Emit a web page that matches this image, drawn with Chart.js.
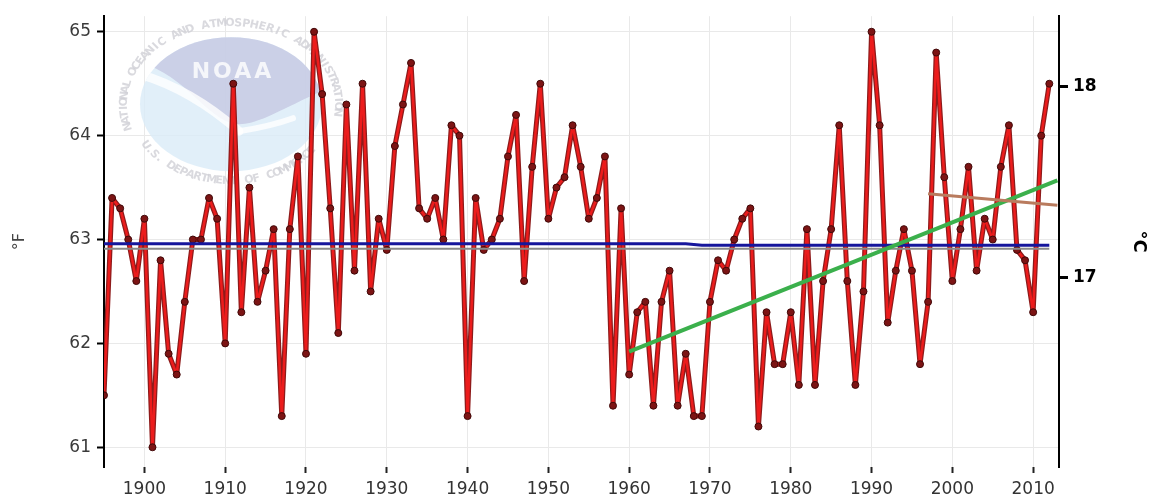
<!DOCTYPE html>
<html>
<head>
<meta charset="utf-8">
<script src="https://cdn.jsdelivr.net/npm/chart.js@4.4.1/dist/chart.umd.min.js"></script>
<style>
  html, body { margin: 0; padding: 0; background: #fff; }
  #wrap { position: relative; width: 1161px; height: 497px; }
</style>
</head>
<body>
<div id="wrap"><canvas id="chart"></canvas></div>
<script>
/* ===== DATA ===== */

// annual mean temperature, °F, one value per year starting at firstYear
const firstYear = 1895;
const tempsF = [
  61.5, 63.4, 63.3, 63.0, 62.6, 63.2, 61.0, 62.8, 61.9, 61.7,
  62.4, 63.0, 63.0, 63.4, 63.2, 62.0, 64.5, 62.3, 63.5, 62.4,
  62.7, 63.1, 61.3, 63.1, 63.8, 61.9, 65.0, 64.4, 63.3, 62.1,
  64.3, 62.7, 64.5, 62.5, 63.2, 62.9, 63.9, 64.3, 64.7, 63.3,
  63.2, 63.4, 63.0, 64.1, 64.0, 61.3, 63.4, 62.9, 63.0, 63.2,
  63.8, 64.2, 62.6, 63.7, 64.5, 63.2, 63.5, 63.6, 64.1, 63.7,
  63.2, 63.4, 63.8, 61.4, 63.3, 61.7, 62.3, 62.4, 61.4, 62.4,
  62.7, 61.4, 61.9, 61.3, 61.3, 62.4, 62.8, 62.7, 63.0, 63.2,
  63.3, 61.2, 62.3, 61.8, 61.8, 62.3, 61.6, 63.1, 61.6, 62.6,
  63.1, 64.1, 62.6, 61.6, 62.5, 65.0, 64.1, 62.2, 62.7, 63.1,
  62.7, 61.8, 62.4, 64.8, 63.6, 62.6, 63.1, 63.7, 62.7, 63.2,
  63.0, 63.7, 64.1, 62.9, 62.8, 62.3, 64.0, 64.5
];

// long-term average lines
const meanYears = [1895, 1967, 1969, 2012];
const meanValues = [62.96, 62.96, 62.945, 62.945];
const baseYears = [1895, 2012];
const baseValues = [62.91, 62.91];

// trend lines
const trend1960Years = [1960, 2013];
const trend1960Values = [61.92, 63.57];
const trend1997Years = [1997, 2013];
const trend1997Values = [63.44, 63.33];

// axis ticks
const yearTicks = [1900, 1910, 1920, 1930, 1940, 1950, 1960, 1970, 1980, 1990, 2000, 2010];
const fTicks = [61, 62, 63, 64, 65];
const cTicks = [17, 18];

/* ===== HELPERS ===== */

const toPoints = (xs, ys) => xs.map((x, i) => ({ x: x, y: ys[i] }));
const tempPoints = tempsF.map((y, i) => ({ x: firstYear + i, y: y }));

// faint NOAA seal behind the data
const noaaLogo = {
  id: 'noaaLogo',
  beforeDatasetsDraw(chart) {
    const { ctx, chartArea } = chart;
    const cx = chartArea.left + 127, cy = chartArea.top + 88;
    const rx = 91, ry = 67;
    ctx.save();
    ctx.globalAlpha = 0.8;

    // ring text
    ctx.fillStyle = '#d0d0d6';
    ctx.font = 'bold 11px "DejaVu Sans"';
    ctx.textAlign = 'center';
    ctx.textBaseline = 'middle';
    const ringText = (txt, a0, a1, ringRx, ringRy, top) => {
      const n = txt.length;
      for (let i = 0; i < n; i++) {
        const a = (a0 + (a1 - a0) * (i + 0.5) / n) * Math.PI / 180;
        ctx.save();
        ctx.translate(cx + ringRx * Math.cos(a), cy + ringRy * Math.sin(a));
        ctx.rotate(top ? a + Math.PI / 2 : a - Math.PI / 2);
        ctx.fillText(txt[i], 0, 0);
        ctx.restore();
      }
    };
    ringText('NATIONAL OCEANIC AND ATMOSPHERIC ADMINISTRATION', 162, 368, 107, 81, true);
    ringText('U.S. DEPARTMENT OF COMMERCE', 150, 35, 101, 77, false);

    // disc
    ctx.beginPath();
    ctx.ellipse(cx, cy, rx, ry, 0, 0, Math.PI * 2);
    ctx.fillStyle = '#d9ebf7';
    ctx.fill();
    ctx.clip();

    ctx.beginPath();
    ctx.moveTo(cx - rx - 2, cy - ry - 2);
    ctx.lineTo(cx + rx + 2, cy - ry - 2);
    ctx.lineTo(cx + rx + 2, cy - 14);
    ctx.bezierCurveTo(cx + 50, cy + 5, cx + 25, cy + 22, cx + 5, cy + 20);
    ctx.bezierCurveTo(cx - 25, cy + 15, cx - 45, cy - 30, cx - rx - 2, cy - 42);
    ctx.closePath();
    ctx.fillStyle = '#c6c8e2';
    ctx.fill();

    // white gull wings
    ctx.strokeStyle = '#ffffff';
    ctx.lineCap = 'round';
    ctx.lineWidth = 9;
    ctx.beginPath();
    ctx.moveTo(cx - rx, cy - 30);
    ctx.quadraticCurveTo(cx - 40, cy - 15, cx + 8, cy + 27);
    ctx.stroke();
    ctx.lineWidth = 6;
    ctx.beginPath();
    ctx.moveTo(cx + 8, cy + 27);
    ctx.quadraticCurveTo(cx + 40, cy + 22, cx + 62, cy + 14);
    ctx.stroke();

    ctx.fillStyle = '#ffffff';
    ctx.font = 'bold 22px "DejaVu Sans"';
    ctx.letterSpacing = '3px';
    ctx.fillText('NOAA', cx + 2, cy - 32);
    ctx.restore();
  }
};

/* ===== CHART ===== */

Chart.defaults.font.family = '"DejaVu Sans", sans-serif';

new Chart(document.getElementById('chart'), {
  type: 'line',
  data: {
    datasets: [
      {
        label: 'Trend 1997-2012',
        data: toPoints(trend1997Years, trend1997Values),
        borderColor: '#b97b5e',
        borderWidth: 3,
        pointRadius: 0,
        order: 1
      },
      {
        label: 'Trend 1960-2012',
        data: toPoints(trend1960Years, trend1960Values),
        borderColor: '#3bb04c',
        borderWidth: 4,
        pointRadius: 0,
        order: 2
      },
      {
        label: 'Mean',
        data: toPoints(meanYears, meanValues),
        borderColor: '#16169c',
        borderWidth: 3,
        pointRadius: 0,
        order: 3
      },
      {
        label: 'Base',
        data: toPoints(baseYears, baseValues),
        borderColor: '#8a8a8a',
        borderWidth: 2,
        pointRadius: 0,
        order: 4
      },
      {
        label: 'Annual',
        data: tempPoints,
        borderColor: '#ec1c1c',
        borderWidth: 2.5,
        borderJoinStyle: 'round',
        pointRadius: 3.5,
        pointBackgroundColor: '#7c1414',
        pointBorderColor: '#400808',
        pointBorderWidth: 1,
        order: 5
      },
      {
        label: 'Annual outline',
        data: tempPoints,
        borderColor: '#8e1b1b',
        borderWidth: 5,
        borderJoinStyle: 'round',
        pointRadius: 0,
        order: 6
      }
    ]
  },
  options: {
    responsive: true,
    maintainAspectRatio: false,
    animation: false,
    devicePixelRatio: 1,
    events: [],
    layout: { padding: { top: 12, left: 0, right: 0, bottom: 0 } },
    elements: { line: { tension: 0 } },
    plugins: {
      legend: { display: false },
      tooltip: { enabled: false }
    },
    scales: {
      x: {
        type: 'linear',
        min: 1895,
        max: 2013.2,
        afterBuildTicks: s => { s.ticks = yearTicks.map(v => ({ value: v })); },
        afterFit: s => { s.height = 30; },
        grid: { color: '#e9e9e9', tickColor: '#222', tickLength: 6, tickWidth: 2 },
        border: { display: false },
        ticks: {
          color: '#333',
          font: { size: 17 },
          padding: 6,
          maxRotation: 0,
          autoSkip: false,
          callback: v => String(v)
        }
      },
      y: {
        position: 'left',
        min: 60.81,
        max: 65.15,
        afterBuildTicks: s => { s.ticks = fTicks.map(v => ({ value: v })); },
        afterFit: s => { s.width = 104; },
        grid: { color: '#e9e9e9', tickColor: '#000', tickLength: 7, tickWidth: 2 },
        border: { color: '#000', width: 2 },
        ticks: { color: '#3a3a3a', font: { size: 17 }, padding: 6 },
        title: { display: true, text: '°F', color: '#444', font: { size: 16 }, padding: { top: 10 } }
      },
      y2: {
        position: 'right',
        min: 16.01,
        max: 18.37,
        afterBuildTicks: s => { s.ticks = cTicks.map(v => ({ value: v })); },
        afterFit: s => { s.width = 102; },
        grid: { drawOnChartArea: false, tickColor: '#000', tickLength: 9, tickWidth: 3 },
        border: { color: '#000', width: 2 },
        ticks: { color: '#000', font: { size: 17, weight: 'bold' }, padding: 5 },
        title: { display: true, text: '°C', color: '#000', font: { size: 18, weight: 'bold' }, padding: { top: 12 } }
      }
    }
  },
  plugins: [noaaLogo]
});
</script>
</body>
</html>
